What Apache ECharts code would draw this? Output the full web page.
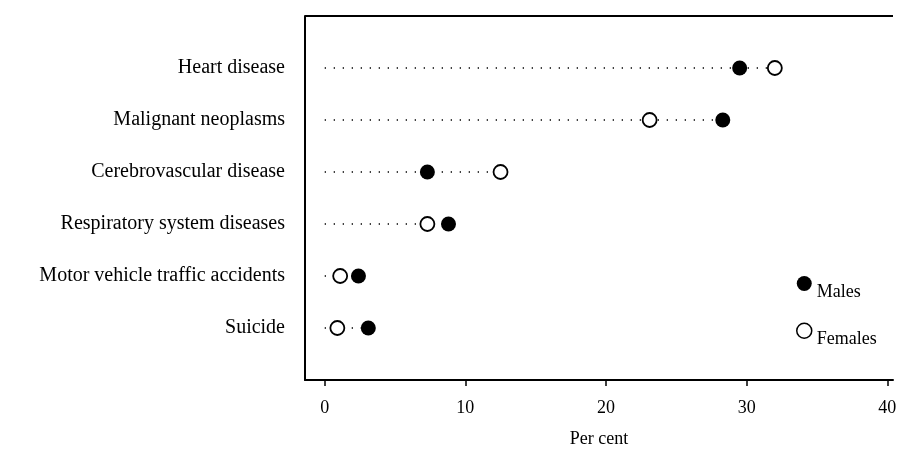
<!DOCTYPE html>
<html><head><meta charset="utf-8">
<script src="https://cdn.jsdelivr.net/npm/echarts@6/dist/echarts.min.js"></script>
<style>html,body{margin:0;padding:0;background:#fff}#c{width:898px;height:450px}</style>
</head><body><div id="c"></div>
<script>
const categories = ['Heart disease','Malignant neoplasms','Cerebrovascular disease','Respiratory system diseases','Motor vehicle traffic accidents','Suicide'];
const males   = [29.5, 28.3, 7.3, 8.8, 2.4, 3.1];
const females = [32.0, 23.1, 12.5, 7.3, 1.1, 0.9];
const xTicks = [0, 10, 20, 30, 40];

const FONT = 'Liberation Serif';
const rowMax = categories.map((c, i) => [Math.max(males[i], females[i]), i + 1]);

const chart = echarts.init(document.getElementById('c'), null, {renderer: 'canvas'});
chart.setOption({
  animation: false,
  backgroundColor: '#fff',
  grid: {left: 305, right: 5, top: 16, bottom: 70, containLabel: false, outerBoundsMode: 'none'},
  xAxis: [{
    type: 'value', min: -1.4, max: 40.4, position: 'bottom',
    splitLine: {show: false},
    axisLine: {show: true, onZero: false, lineStyle: {color: '#000', width: 2}},
    axisTick: {show: true, length: 6, customValues: xTicks, lineStyle: {color: '#000', width: 1.5}},
    axisLabel: {customValues: xTicks, color: '#000', fontFamily: FONT, fontSize: 18, margin: 19},
    name: 'Per cent', nameLocation: 'middle', nameGap: 50,
    nameTextStyle: {color: '#000', fontFamily: FONT, fontSize: 18}
  }],
  yAxis: {
    type: 'value', min: 0, max: 7, interval: 1, inverse: true, position: 'left',
    splitLine: {show: false},
    axisLine: {show: true, onZero: false, lineStyle: {color: '#000', width: 2}},
    axisTick: {show: false},
    axisLabel: {
      color: '#000', fontFamily: FONT, fontSize: 20, margin: 20,
      formatter: v => (v >= 1 && v <= categories.length) ? categories[v - 1] : ''
    }
  },
  legend: {
    orient: 'vertical', left: 791, top: 271, itemGap: 21,
    itemWidth: 15, itemHeight: 15,
    data: [
      {name: 'Males', icon: 'circle', itemStyle: {color: '#000', borderWidth: 0}},
      {name: 'Females', icon: 'circle', itemStyle: {color: '#fff', borderColor: '#000', borderWidth: 1.5}}
    ],
    formatter: '{a|{name}}',
    textStyle: {color: '#000', fontFamily: FONT, fontSize: 18,
      rich: {a: {fontFamily: FONT, fontSize: 18, color: '#000', padding: [18, 0, 0, 0]}}}
  },
  series: [{
    type: 'custom', silent: true,
    data: rowMax,
    renderItem: (params, api) => {
      const p0 = api.coord([0, api.value(1)]);
      const p1 = api.coord([api.value(0), api.value(1)]);
      return {type: 'line', shape: {x1: p0[0], y1: p0[1], x2: p1[0], y2: p1[1]},
        style: {stroke: '#000', lineWidth: 1.3, lineDash: [1.3, 7.7]}};
    },
    markLine: {
      silent: true, symbol: 'none', animation: false,
      label: {show: false},
      lineStyle: {color: '#000', width: 2, type: 'solid'},
      data: [{yAxis: 0}]
    },
    z: 1
  }, {
    name: 'Males', type: 'scatter', symbol: 'circle', symbolSize: 15,
    itemStyle: {color: '#000', borderWidth: 0, opacity: 1},
    data: males.map((v, i) => [v, i + 1]), z: 3
  }, {
    name: 'Females', type: 'scatter', symbol: 'circle', symbolSize: 14,
    itemStyle: {color: '#fff', borderColor: '#000', borderWidth: 1.8, opacity: 1},
    data: females.map((v, i) => [v, i + 1]), z: 3
  }]
});
</script></body></html>
